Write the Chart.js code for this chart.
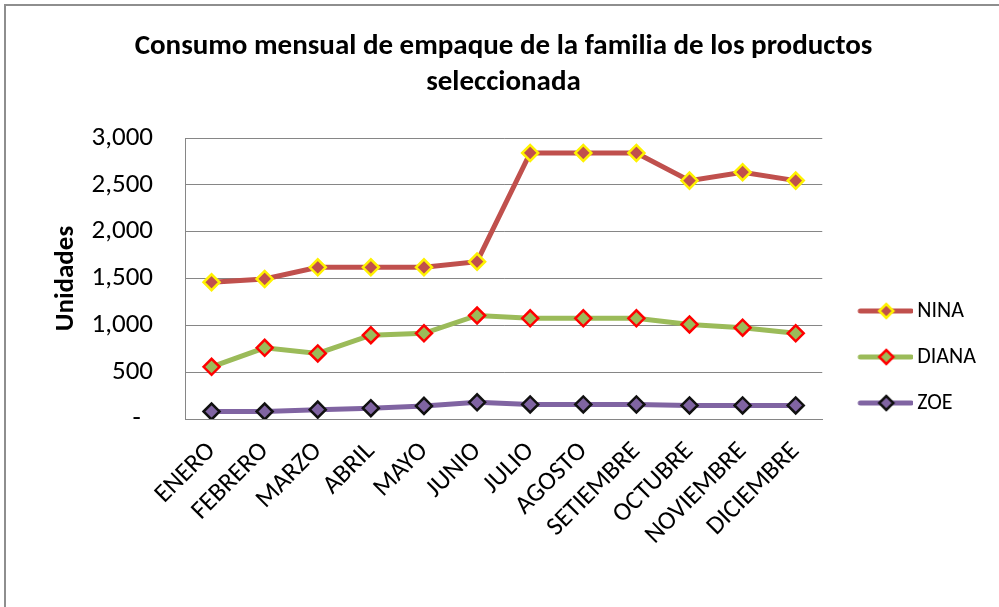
<!DOCTYPE html>
<html>
<head>
<meta charset="utf-8">
<script src="https://cdn.jsdelivr.net/npm/chart.js@4/dist/chart.umd.min.js"></script>
<style>
  html, body { margin: 0; padding: 0; background: #fff; }
  #frame { position: absolute; left: 4px; top: 4px; width: 1000px; height: 610px;
           border-left: 2px solid #8e8e8e; border-top: 2px solid #8e8e8e; }
  #wrap { position: absolute; left: 0; top: 0; width: 999px; height: 607px; }
</style>
</head>
<body>
<div id="frame"></div>
<div id="wrap"><canvas id="c" width="999" height="607"></canvas></div>
<script>
const titleLines = ['Consumo mensual de empaque de la familia de los productos', 'seleccionada'];
const yTitle = 'Unidades';
const categories = ['ENERO','FEBRERO','MARZO','ABRIL','MAYO','JUNIO','JULIO','AGOSTO','SETIEMBRE','OCTUBRE','NOVIEMBRE','DICIEMBRE'];
const seriesNames = ['NINA', 'DIANA', 'ZOE'];
const nina  = [1460, 1495, 1620, 1620, 1620, 1680, 2840, 2840, 2840, 2545, 2635, 2545];
const diana = [557, 760, 700, 895, 915, 1105, 1075, 1075, 1075, 1010, 975, 915];
const zoe   = [80, 80, 100, 115, 140, 178, 155, 155, 155, 145, 145, 145];
const yTicks = [0, 500, 1000, 1500, 2000, 2500, 3000];

const FONT = 'Carlito, Lato, sans-serif';
Chart.defaults.font.family = FONT;
Chart.defaults.color = '#000';

const styles = [
  { line: '#C0504D', fill: '#C0504D', edge: '#FFF200' },
  { line: '#9BBB59', fill: '#9BBB59', edge: '#FF0000' },
  { line: '#8064A2', fill: '#8064A2', edge: '#111111' }
];

function legendIcon(s) {
  const cv = document.createElement('canvas');
  cv.width = 74; cv.height = 22;
  const g = cv.getContext('2d');
  g.strokeStyle = s.line; g.lineWidth = 5; g.lineCap = 'round';
  g.beginPath(); g.moveTo(21, 11); g.lineTo(72, 11); g.stroke();
  const cx = 47, cy = 11, r = 7;
  g.beginPath();
  g.moveTo(cx - r, cy); g.lineTo(cx, cy - r); g.lineTo(cx + r, cy); g.lineTo(cx, cy + r); g.closePath();
  g.fillStyle = s.fill; g.fill();
  g.lineWidth = 2.5; g.strokeStyle = s.edge; g.stroke();
  return cv;
}
const icons = styles.map(legendIcon);

const seriesData = [nina, diana, zoe];
const datasets = seriesData.map((d, i) => ({
  label: seriesNames[i],
  data: d,
  borderColor: styles[i].line,
  backgroundColor: styles[i].fill,
  borderWidth: 5,
  tension: 0,
  pointStyle: 'rectRot',
  pointRadius: 8,
  pointHoverRadius: 8,
  pointBackgroundColor: styles[i].fill,
  pointBorderColor: styles[i].edge,
  pointBorderWidth: 2.5
}));

new Chart(document.getElementById('c'), {
  type: 'line',
  data: { labels: categories, datasets },
  options: {
    responsive: false,
    animation: false,
    devicePixelRatio: 1,
    layout: { padding: { left: 21, right: 13, top: 0, bottom: 0 } },
    plugins: {
      title: {
        display: true,
        text: titleLines,
        font: { size: 29, weight: 'bold', lineHeight: 36 / 29 },
        color: '#000',
        padding: { top: 29, bottom: 37 }
      },
      legend: {
        position: 'right',
        align: 'center',
        title: { display: true, text: '', font: { size: 10, lineHeight: 1 }, padding: { top: 97, bottom: 0 } },
        labels: {
          usePointStyle: true,
          pointStyleWidth: 60,
          padding: 24,
          font: { size: 22 },
          color: '#000',
          generateLabels: (chart) => chart.data.datasets.map((ds, i) => ({
            text: ds.label,
            pointStyle: icons[i],
            fillStyle: ds.backgroundColor,
            strokeStyle: ds.borderColor,
            lineWidth: 0,
            hidden: false,
            datasetIndex: i,
            fontColor: '#000'
          }))
        }
      },
      tooltip: { enabled: false }
    },
    scales: {
      x: {
        offset: true,
        grid: { display: false, drawTicks: false },
        border: { display: true, color: '#868686', width: 1 },
        ticks: { minRotation: 45, maxRotation: 45, autoSkip: false, font: { size: 26, lineHeight: 1.0 }, color: '#000', padding: 19 },
        afterFit: (scale) => { scale.height = 188; }
      },
      y: {
        min: 0, max: 3000,
        afterBuildTicks: (scale) => { scale.ticks = yTicks.map(v => ({ value: v })); },
        grid: { color: '#868686', lineWidth: 1, drawTicks: false },
        border: { display: true, color: '#868686', width: 1 },
        ticks: {
          font: { size: 27 }, color: '#000', padding: 32,
          callback: (v) => v === 0 ? '-  ' : Number(v).toLocaleString('en-US')
        },
        title: { display: true, text: yTitle, font: { size: 27, weight: 'bold', lineHeight: 1.2 }, color: '#000', padding: { top: 29, bottom: 0 } },
        afterFit: (scale) => { scale.width = 164; }
      }
    }
  }
});
</script>
</body>
</html>
